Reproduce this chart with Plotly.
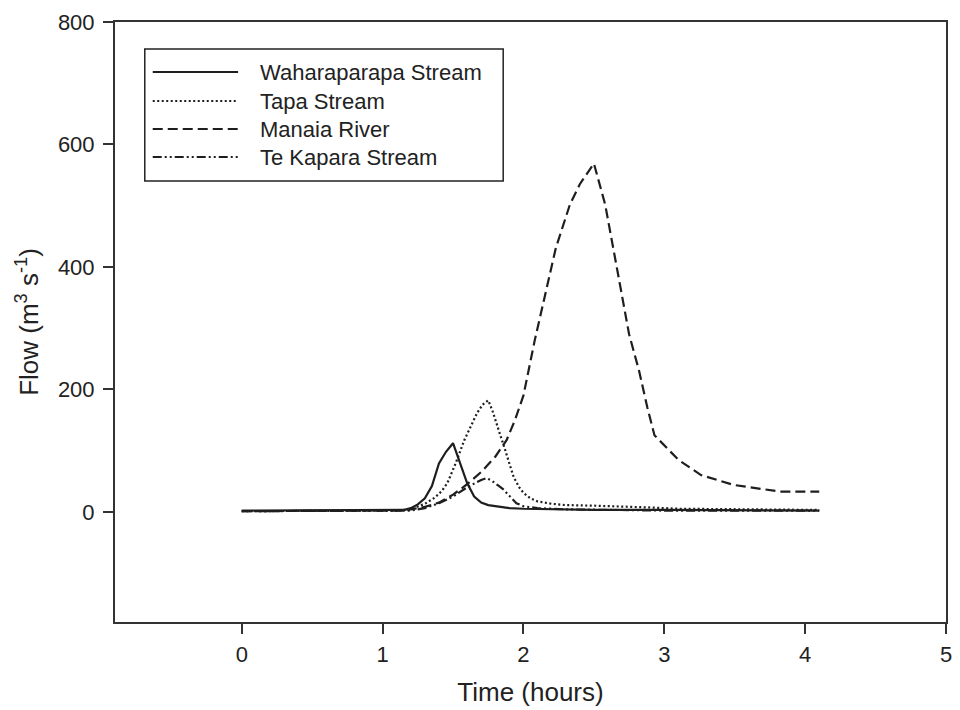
import plotly.graph_objects as go

# ---- data ----
wah_t = [0, 0.5, 1.0, 1.1, 1.15, 1.2, 1.25, 1.3, 1.35, 1.4, 1.45, 1.5, 1.55, 1.6, 1.65, 1.7, 1.75, 1.8, 1.9, 2.0, 2.2, 2.5, 3.0, 3.5, 4.1]
wah_q = [2, 2, 2, 2, 3, 6, 12, 22, 42, 79, 98, 112, 80, 47, 25, 15, 11, 9, 6, 5, 4, 3, 3, 2, 2]

tapa_t = [0, 0.5, 1.0, 1.1, 1.2, 1.25, 1.3, 1.37, 1.42, 1.46, 1.52, 1.58, 1.63, 1.67, 1.71, 1.75, 1.78, 1.81, 1.84, 1.87, 1.9, 1.93, 1.97, 2.0, 2.05, 2.1, 2.2, 2.3, 2.5, 2.7, 2.9, 3.1, 3.5, 4.1]
tapa_q = [1, 1, 1, 2, 4, 8, 13, 23, 34, 47, 80, 117, 140, 161, 175, 182, 165, 145, 122, 101, 78, 57, 40, 31, 22, 17, 13, 11, 10, 9, 7, 5, 4, 3]

man_t = [0, 0.5, 1.0, 1.1, 1.2, 1.3, 1.4, 1.5, 1.6, 1.7, 1.8, 1.88, 1.94, 2.0, 2.08, 2.15, 2.23, 2.33, 2.4, 2.5, 2.58, 2.65, 2.7, 2.75, 2.82, 2.88, 2.93, 3.0, 3.1, 3.26, 3.49, 3.7, 3.82, 3.95, 4.1]
man_q = [1, 1, 1, 2, 4, 8, 15, 28, 45, 65, 90, 117, 150, 190, 280, 350, 431, 502, 535, 569, 502, 415, 350, 290, 231, 170, 125, 108, 85, 60, 44, 37, 33, 33, 33]

tek_t = [0, 0.5, 1.0, 1.1, 1.2, 1.3, 1.4, 1.5, 1.6, 1.65, 1.7, 1.74, 1.78, 1.82, 1.86, 1.9, 1.95, 2.0, 2.1, 2.3, 2.6, 3.0, 3.5, 4.1]
tek_q = [1, 1, 1, 1, 2, 6, 14, 25, 40, 46, 52, 55, 50, 43, 36, 26, 14, 9, 6, 4, 3, 2, 2, 2]

names = ["Waharaparapa Stream", "Tapa Stream", "Manaia River", "Te Kapara Stream"]
dashes = ["solid", "2px,2.5px", "10px,5px", "9px,3px,2px,3px,2px,3px"]

x_ticks = [0, 1, 2, 3, 4, 5]
y_ticks = [0, 200, 400, 600, 800]

LINE = "#1e1e1e"
AX = "#333333"
FONT = "Liberation Sans, Arial, sans-serif"

fig = go.Figure()
for t, q, n, d in zip([wah_t, tapa_t, man_t, tek_t], [wah_q, tapa_q, man_q, tek_q], names, dashes):
    fig.add_trace(go.Scatter(x=t, y=q, mode="lines", name=n, showlegend=False,
                             line=dict(color=LINE, width=2.2, dash=d)))

# ---- legend drawn by hand (box, samples, labels) ----
L, R, T, B = 115, 952, 22, 622
def px(xp): return (xp - L) / (R - L)
def py(yp): return (B - yp) / (B - T)

shapes = [dict(type="rect", xref="paper", yref="paper",
               x0=px(145), x1=px(506), y0=py(181), y1=py(49),
               line=dict(color="#222", width=1.5), fillcolor="white")]
annots = []
rows = [72, 101, 129, 157]
for n, d, r in zip(names, dashes, rows):
    shapes.append(dict(type="line", xref="paper", yref="paper",
                       x0=px(153), x1=px(239), y0=py(r), y1=py(r),
                       line=dict(color=LINE, width=2.2, dash=d)))
    annots.append(dict(xref="paper", yref="paper", x=px(259), y=py(r),
                       text=n, showarrow=False, xanchor="left", yanchor="middle",
                       font=dict(family=FONT, size=22, color="#222")))

fig.update_layout(
    width=960, height=710,
    margin=dict(l=L, r=960 - R, t=T, b=710 - B),
    paper_bgcolor="white", plot_bgcolor="white",
    font=dict(family=FONT, color="#222"),
    shapes=shapes, annotations=annots,
    xaxis=dict(range=[-0.9, 5], tickvals=x_ticks, ticks="outside", ticklen=10,
               tickwidth=1.5, tickcolor=AX, showgrid=False, zeroline=False,
               showline=True, linecolor=AX, linewidth=2, mirror=True,
               tickfont=dict(size=22), ticklabelstandoff=2,
               title=dict(text="Time (hours)", font=dict(size=26), standoff=16)),
    yaxis=dict(range=[-180, 800], tickvals=y_ticks, ticks="outside", ticklen=10,
               tickwidth=1.5, tickcolor=AX, showgrid=False, zeroline=False,
               showline=True, linecolor=AX, linewidth=2, mirror=True,
               tickfont=dict(size=22), ticklabelstandoff=4,
               title=dict(text="Flow (m<sup>3</sup> s<sup>-1</sup>)", font=dict(size=26), standoff=12)),
)

fig.write_html("out.html")
